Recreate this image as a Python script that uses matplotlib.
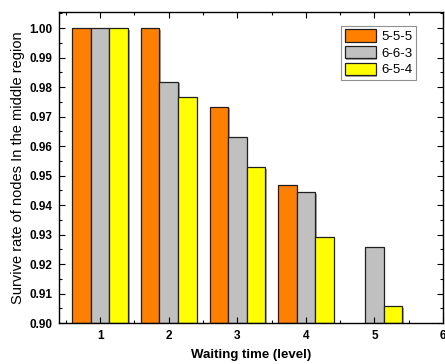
import numpy as np
import matplotlib
matplotlib.use("Agg")
import matplotlib.pyplot as plt
import matplotlib.patheffects as pe
from matplotlib.ticker import MultipleLocator, FormatStrFormatter

plt.rcParams['font.family'] = ['Liberation Sans', 'DejaVu Sans']

# data
levels = [1, 2, 3, 4, 5]
s555 = [1.000, 1.000, 0.9733, 0.9469, np.nan]
s663 = [1.000, 0.9818, 0.9632, 0.9444, 0.9258]
s654 = [1.000, 0.9766, 0.9529, 0.9293, 0.9058]
names = ['5-5-5', '6-6-3', '6-5-4']
colors = ['#FF8000', '#C0C0C0', '#FFFF00']

fig = plt.figure(figsize=(4.45, 3.64), dpi=100)
ax = fig.add_axes([0.1326, 0.1126, 0.863, 0.855])

x = np.array(levels)
w = 0.27
shadow = [pe.SimplePatchShadow(offset=(1.2, -1.2), shadow_rgbFace='#808080', alpha=0.7),
          pe.Normal()]
for i, (vals, nm, c) in enumerate(zip([s555, s663, s654], names, colors)):
    bars = ax.bar(x + (i - 1) * w, np.array(vals) - 0.9, width=w, bottom=0.9,
                  color=c, edgecolor='#202020', linewidth=0.9, label=nm)
    for b in bars:
        b.set_path_effects(shadow)

ax.set_xlim(0.4, 6)
ax.set_ylim(0.9, 1.0055)
ax.xaxis.set_major_locator(MultipleLocator(1))
ax.xaxis.set_minor_locator(MultipleLocator(0.5))
ax.yaxis.set_major_locator(MultipleLocator(0.01))
ax.yaxis.set_minor_locator(MultipleLocator(0.005))
ax.yaxis.set_major_formatter(FormatStrFormatter('%.2f'))
ax.tick_params(which='both', direction='in', top=True, right=True)
ax.tick_params(which='major', length=4, width=0.8, labelsize=8.5, pad=5)
ax.tick_params(which='minor', length=2, width=0.8)
for lab in ax.get_xticklabels() + ax.get_yticklabels():
    lab.set_fontweight('bold')
for sp in ax.spines.values():
    sp.set_linewidth(1.0)

ax.set_xlabel('Waiting time (level)', fontsize=9.5, fontweight='bold', labelpad=5)
ax.set_ylabel('Survive rate of nodes In the middle region', fontsize=10.5, labelpad=3)

leg = ax.legend(loc='upper right', bbox_to_anchor=(0.93, 0.955), fontsize=9.5,
                fancybox=False, edgecolor='#909090', framealpha=1,
                handlelength=2.35, handleheight=1.1, handletextpad=0.45,
                borderpad=0.25, labelspacing=0.22, borderaxespad=0)
leg.get_frame().set_linewidth(0.8)

fig.savefig('out.png', dpi=100)
